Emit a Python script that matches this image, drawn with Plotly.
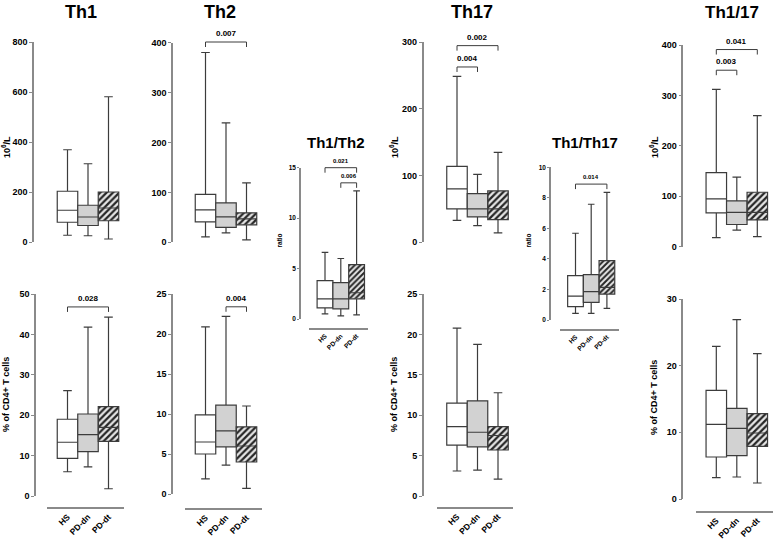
import plotly.graph_objects as go

W, H = 778, 540
GROUPS = ["HS", "PD-dn", "PD-dt"]

# ---- five-number summaries (HS, PD-dn, PD-dt): whisker low, Q1, median, Q3, whisker high
TH1_ABS = {"low": [27, 25, 12], "q1": [79, 66, 85], "med": [127, 100, 136], "q3": [203, 147, 200], "high": [369, 313, 581]}
TH1_PCT = {"low": [6.0, 7.2, 1.8], "q1": [9.3, 11.0, 13.5], "med": [13.3, 15.2, 17.0], "q3": [19.0, 20.3, 22.1], "high": [26.1, 41.8, 44.3]}
TH2_ABS = {"low": [11, 19, 5], "q1": [41, 30, 35], "med": [65, 51, 47], "q3": [96, 79, 59], "high": [380, 239, 119]}
TH2_PCT = {"low": [1.9, 3.6, 0.7], "q1": [5.0, 5.9, 4.0], "med": [6.5, 7.9, 6.0], "q3": [9.9, 11.1, 8.4], "high": [20.9, 22.2, 11.0]}
TH1_TH2 = {"low": [0.5, 0.3, 0.4], "q1": [1.1, 1.0, 2.0], "med": [2.0, 2.0, 2.6], "q3": [3.8, 3.6, 5.4], "high": [6.6, 6.0, 12.7]}
TH17_ABS = {"low": [33, 25, 14], "q1": [50, 38, 34], "med": [80, 50, 50], "q3": [114, 73, 77], "high": [249, 102, 135]}
TH17_PCT = {"low": [3.1, 3.2, 2.1], "q1": [6.3, 6.1, 5.7], "med": [8.6, 7.9, 7.5], "q3": [11.5, 11.8, 8.6], "high": [20.8, 18.8, 12.8]}
TH1_TH17 = {"low": [0.44, 0.44, 0.76], "q1": [0.87, 1.16, 1.7], "med": [1.57, 1.86, 2.14], "q3": [2.9, 2.97, 3.89], "high": [5.68, 7.58, 8.36]}
TH1_17_ABS = {"low": [18, 33, 20], "q1": [67, 44, 53], "med": [95, 68, 68], "q3": [147, 91, 108], "high": [312, 138, 260]}
TH1_17_PCT = {"low": [3.2, 3.3, 2.4], "q1": [6.3, 6.5, 7.9], "med": [11.2, 10.6, 9.9], "q3": [16.3, 13.6, 12.8], "high": [22.9, 26.9, 21.8]}

# ---- y tick values per panel
TH1_ABS_TICKS = [0, 200, 400, 600, 800]
TH1_PCT_TICKS = [0, 10, 20, 30, 40, 50]
TH2_ABS_TICKS = [0, 100, 200, 300, 400]
TH2_PCT_TICKS = [0, 5, 10, 15, 20, 25]
TH1_TH2_TICKS = [0, 5, 10, 15]
TH17_ABS_TICKS = [0, 100, 200, 300]
TH17_PCT_TICKS = [0, 5, 10, 15, 20, 25]
TH1_TH17_TICKS = [0, 2, 4, 6, 8, 10]
TH1_17_ABS_TICKS = [0, 100, 200, 300, 400]
TH1_17_PCT_TICKS = [0, 10, 20, 30]

# ---- significance brackets: (group a, group b, level, p-value)
TH1_PCT_SIG = [(0, 2, 46.8, "0.028")]
TH2_ABS_SIG = [(0, 2, 401, "0.007")]
TH2_PCT_SIG = [(1, 2, 23.4, "0.004")]
TH1_TH2_SIG = [(0, 2, 15.0, "0.021"), (1, 2, 13.5, "0.006")]
TH17_ABS_SIG = [(0, 1, 263, "0.004"), (0, 2, 295, "0.002")]
TH1_TH17_SIG = [(0, 2, 8.9, "0.014")]
TH1_17_ABS_SIG = [(0, 1, 350, "0.003"), (0, 2, 391, "0.041")]

TITLES = ["Th1", "Th2", "Th1/Th2", "Th17", "Th1/Th17", "Th1/17"]
Y_ABS = "10<sup>6</sup>/L"
Y_PCT = "% of CD4+ T cells"
Y_RATIO = "ratio"

FONT = "Liberation Sans, Arial, sans-serif"
LINE = "#3c3c3c"
AXIS = "#8a8a8a"
FILLS = ["#ffffff", "#d2d2d2", "rgba(0,0,0,0)"]

# layout geometry (pixels)
panels = [
    dict(s=TH1_ABS, t=TH1_ABS_TICKS, sig=[], c0=67.5, w=20.5, yx=33, yt=42, yb=242, xl=None, small=False),
    dict(s=TH1_PCT, t=TH1_PCT_TICKS, sig=TH1_PCT_SIG, c0=67.5, w=20.5, yx=35, yt=294, yb=496, xl=508, small=False),
    dict(s=TH2_ABS, t=TH2_ABS_TICKS, sig=TH2_ABS_SIG, c0=205.5, w=20.5, yx=172, yt=42.5, yb=242.3, xl=None, small=False),
    dict(s=TH2_PCT, t=TH2_PCT_TICKS, sig=TH2_PCT_SIG, c0=205.5, w=20.5, yx=172, yt=294, yb=494, xl=508.7, small=False),
    dict(s=TH1_TH2, t=TH1_TH2_TICKS, sig=TH1_TH2_SIG, c0=325, w=15.8, yx=300, yt=167.7, yb=319, xl=329, small=True),
    dict(s=TH17_ABS, t=TH17_ABS_TICKS, sig=TH17_ABS_SIG, c0=457, w=20.5, yx=422.7, yt=42.3, yb=242.3, xl=None, small=False),
    dict(s=TH17_PCT, t=TH17_PCT_TICKS, sig=[], c0=457, w=20.5, yx=422.7, yt=294.3, yb=496, xl=507.7, small=False),
    dict(s=TH1_TH17, t=TH1_TH17_TICKS, sig=TH1_TH17_SIG, c0=575.5, w=15.7, yx=550, yt=167.3, yb=320, xl=330, small=True),
    dict(s=TH1_17_ABS, t=TH1_17_ABS_TICKS, sig=TH1_17_ABS_SIG, c0=716.3, w=20.5, yx=682.3, yt=45, yb=246.7, xl=None, small=False),
    dict(s=TH1_17_PCT, t=TH1_17_PCT_TICKS, sig=[], c0=716.3, w=20.5, yx=682.3, yt=299, yb=499, xl=511.7, small=False),
]

fig = go.Figure()
layout = dict(
    width=W, height=H, margin=dict(l=0, r=0, t=0, b=0, autoexpand=False),
    paper_bgcolor="white", plot_bgcolor="rgba(0,0,0,0)",
    showlegend=False, barmode="overlay", boxmode="overlay",
    font=dict(family=FONT, color="black"),
)
annotations = []
EXT = 38  # extra pixels above the top tick where brackets may be drawn

for k, p in enumerate(panels, start=1):
    s = p["s"]
    ymax = p["t"][-1]
    span = p["yb"] - p["yt"]
    ytop_data = max(p["yt"] - EXT, 0)
    tfs = 6.5 if p["small"] else 9
    xr = [-1.0, 2.75]
    x0 = (p["c0"] + xr[0] * p["w"]) / W
    x1 = min((p["c0"] + xr[1] * p["w"]) / W, 1.0)
    xpos = 1 - (p["xl"] if p["xl"] else p["yb"]) / H
    layout[f"xaxis{k}"] = dict(
        domain=[x0, x1], range=xr, anchor="free", position=xpos,
        showline=p["xl"] is not None, linecolor=AXIS, linewidth=1.5,
        showticklabels=p["xl"] is not None, tickvals=[0, 1, 2], ticktext=GROUPS,
        tickangle=-45, ticks="", showgrid=False, zeroline=False,
        tickfont=dict(size=6.5 if p["small"] else 8.5, weight="bold", family=FONT),
    )
    layout[f"yaxis{k}"] = dict(
        domain=[1 - p["yb"] / H, 1 - ytop_data / H],
        range=[0, ymax * (p["yb"] - ytop_data) / span],
        visible=False, anchor="free", position=p["yx"] / W,
    )
    layout[f"yaxis{k + 10}"] = dict(
        domain=[1 - p["yb"] / H, 1 - p["yt"] / H], range=[0, ymax],
        anchor="free", position=p["yx"] / W,
        showline=True, linecolor=AXIS, linewidth=1.5,
        ticks="outside", ticklen=2 if p["small"] else 3, tickwidth=1.2, tickcolor=AXIS,
        tickvals=p["t"], showgrid=False, zeroline=False,
        tickfont=dict(size=tfs, weight="bold", family=FONT),
    )
    # dummy trace to attach the visible axis
    fig.add_trace(go.Scatter(x=[None], y=[None], xaxis=f"x{k}", yaxis=f"y{k + 10}",
                             hoverinfo="skip", showlegend=False))
    # hatched fill for PD-dt
    fig.add_trace(go.Bar(
        x=[2], base=[s["q1"][2]], y=[s["q3"][2] - s["q1"][2]], width=1,
        xaxis=f"x{k}", yaxis=f"y{k}", hoverinfo="skip",
        marker=dict(color="#e6e6e6", line=dict(width=0),
                    pattern=dict(shape="/", fgcolor="#262626", bgcolor="#e8e8e8", fgopacity=1,
                                 size=4 if p["small"] else 4.5, solidity=0.5)),
    ))
    for g in range(3):
        fig.add_trace(go.Box(
            x=[g], q1=[s["q1"][g]], median=[s["med"][g]], q3=[s["q3"][g]],
            lowerfence=[s["low"][g]], upperfence=[s["high"][g]],
            width=1, whiskerwidth=0.42, boxpoints=False,
            fillcolor=FILLS[g], line=dict(color=LINE, width=1.2),
            xaxis=f"x{k}", yaxis=f"y{k}", hoverinfo="skip",
        ))
    d = ymax * 5 / span
    for (a, b, lvl, lab) in p["sig"]:
        fig.add_trace(go.Scatter(
            x=[a, a, b, b], y=[lvl - d, lvl, lvl, lvl - d], mode="lines",
            line=dict(color=LINE, width=1), xaxis=f"x{k}", yaxis=f"y{k}", hoverinfo="skip",
        ))
        annotations.append(dict(
            x=(a + b) / 2, y=lvl, xref=f"x{k}", yref=f"y{k}", text=lab, showarrow=False,
            yanchor="bottom", yshift=2,
            font=dict(size=6 if p["small"] else 8, weight="bold", family=FONT),
        ))

# panel titles
title_pos = [(81, 12, 18), (220, 12, 18), (336, 142, 15), (472, 12, 18), (585, 142, 15), (732, 12, 17)]
for txt, (tx, ty, fs) in zip(TITLES, title_pos):
    annotations.append(dict(x=tx / W, y=1 - ty / H, xref="paper", yref="paper", text=txt,
                            showarrow=False, xanchor="center", yanchor="middle",
                            font=dict(size=fs, weight="bold", family=FONT)))

# y-axis labels
ylabels = [(Y_ABS, 6, 147, 9), (Y_PCT, 6, 395, 9), (Y_RATIO, 278.5, 241, 6.5),
           (Y_ABS, 394, 147, 9), (Y_PCT, 394, 395, 9), (Y_RATIO, 527.5, 241, 6.5),
           (Y_ABS, 654, 147, 9), (Y_PCT, 654, 398, 9)]
for txt, lx, ly, fs in ylabels:
    annotations.append(dict(x=lx / W, y=1 - ly / H, xref="paper", yref="paper", text=txt,
                            showarrow=False, textangle=-90, xanchor="center", yanchor="middle",
                            font=dict(size=fs, weight="bold", family=FONT)))

layout["annotations"] = annotations
fig.update_layout(**layout)
fig.write_html("out.html", config={"displayModeBar": False},
               post_script="document.body.style.margin='0px';")
